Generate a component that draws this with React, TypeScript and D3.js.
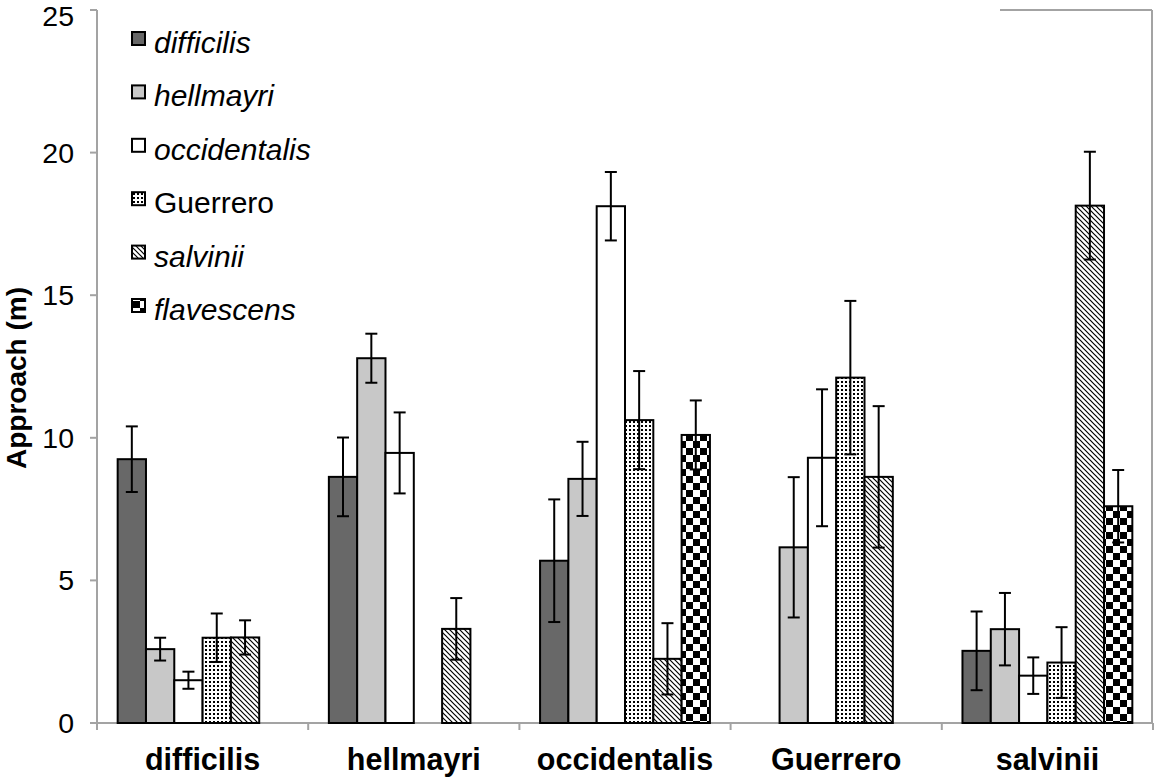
import React from 'react';
import * as d3 from 'd3';

// Groups along the x axis (the species whose song was played)
const categories = ['difficilis', 'hellmayri', 'occidentalis', 'Guerrero', 'salvinii'];

// Responding populations (one bar per population inside every group)
const seriesNames = ['difficilis', 'hellmayri', 'occidentalis', 'Guerrero', 'salvinii', 'flavescens'];
const seriesItalic = [true, true, true, false, true, true];

// Mean approach distance (m); null = not tested
const meanDifficilis = [9.25, 8.63, 5.69, null, 2.53];
const meanHellmayri = [2.59, 12.79, 8.56, 6.16, 3.29];
const meanOccidentalis = [1.5, 9.47, 18.12, 9.3, 1.66];
const meanGuerrero = [2.99, null, 10.62, 12.11, 2.12];
const meanSalvinii = [3.0, 3.3, 2.25, 8.63, 18.14];
const meanFlavescens = [null, null, 10.1, null, 7.6];

// Standard errors
const seDifficilis = [1.15, 1.38, 2.15, null, 1.38];
const seHellmayri = [0.4, 0.86, 1.3, 2.46, 1.27];
const seOccidentalis = [0.3, 1.42, 1.2, 2.4, 0.64];
const seGuerrero = [0.85, null, 1.72, 2.69, 1.24];
const seSalvinii = [0.6, 1.08, 1.25, 2.48, 1.89];
const seFlavescens = [null, null, 1.21, null, 1.27];

const yTicks = [0, 5, 10, 15, 20, 25];
const yLabel = 'Approach (m)';

const means = [meanDifficilis, meanHellmayri, meanOccidentalis, meanGuerrero, meanSalvinii, meanFlavescens];
const errors = [seDifficilis, seHellmayri, seOccidentalis, seGuerrero, seSalvinii, seFlavescens];

const fills = ['#686868', '#c8c8c8', '#ffffff', 'url(#pat-dots)', 'url(#pat-diag)', 'url(#pat-check)'];

const W = 1154;
const H = 777;
const left = 97;
const right = 1153;
const top = 10;
const bottom = 723;
const axisColor = '#a3a3a3';
const font = '"Liberation Sans", Arial, Helvetica, sans-serif';

export default function App() {
  const y = d3.scaleLinear().domain([0, 25]).range([bottom, top]);
  const x = d3.scaleBand<string>().domain(categories).range([left, right]).padding(0);
  const xs = d3
    .scaleBand<string>()
    .domain(seriesNames)
    .range([0, x.bandwidth()])
    .paddingInner(0)
    .paddingOuter(0.73);
  const bw = xs.bandwidth();
  const cap = 6;

  const bars: { key: string; x: number; m: number; e: number | null; fill: string }[] = [];
  seriesNames.forEach((s, si) => {
    categories.forEach((c, ci) => {
      const m = means[si][ci];
      if (m == null) return;
      bars.push({
        key: `${s}-${c}`,
        x: (x(c) as number) + (xs(s) as number),
        m,
        e: errors[si][ci],
        fill: fills[si],
      });
    });
  });

  const boundaries = categories.map((c) => x(c) as number).concat([right]);

  return (
    <svg
      width={W}
      height={H}
      style={{ position: 'absolute', left: 0, top: 0, background: '#fff' }}
      fontFamily={font}
    >
      <defs>
        <pattern id="pat-dots" patternUnits="userSpaceOnUse" width={4} height={4}>
          <rect width={4} height={4} fill="#fff" />
          <rect x={1} y={1} width={2} height={2} fill="#000" />
        </pattern>
        <pattern id="pat-diag" patternUnits="userSpaceOnUse" width={5} height={5}>
          <rect width={5} height={5} fill="#fff" />
          <path d="M-1,-1 L6,6 M-1,4 L1,6 M4,-1 L6,1" stroke="#000" strokeWidth={1.2} />
        </pattern>
        <pattern id="pat-check" patternUnits="userSpaceOnUse" width={14} height={14}>
          <rect width={14} height={14} fill="#fff" />
          <rect x={0} y={0} width={7} height={7} fill="#000" />
          <rect x={7} y={7} width={7} height={7} fill="#000" />
        </pattern>
      </defs>

      {/* frame edges */}
      <line x1={1000} y1={top} x2={1152} y2={top} stroke={axisColor} strokeWidth={2} />
      <line x1={1152} y1={top} x2={1152} y2={bottom} stroke={axisColor} strokeWidth={2} />

      {/* y axis */}
      <line x1={left} y1={top} x2={left} y2={bottom + 7} stroke={axisColor} strokeWidth={2} />
      {yTicks.map((t) => (
        <g key={t}>
          <line x1={left - 7} x2={left} y1={y(t)} y2={y(t)} stroke={axisColor} strokeWidth={2} />
          <text x={74} y={Math.max(y(t) + 10, 26)} textAnchor="end" fontSize={28.5} fill="#000">
            {t}
          </text>
        </g>
      ))}
      <text
        transform={`translate(26, ${378}) rotate(-90)`}
        textAnchor="middle"
        fontSize={28}
        fontWeight="bold"
      >
        {yLabel}
      </text>

      {/* x axis */}
      <line x1={left} y1={bottom} x2={right} y2={bottom} stroke={axisColor} strokeWidth={2} />
      {boundaries.map((b, i) => (
        <line key={i} x1={b} x2={b} y1={bottom} y2={bottom + 7} stroke={axisColor} strokeWidth={2} />
      ))}
      {categories.map((c) => (
        <text
          key={c}
          x={(x(c) as number) + x.bandwidth() / 2}
          y={770}
          textAnchor="middle"
          fontSize={30.5}
          fontWeight="bold"
        >
          {c}
        </text>
      ))}

      {/* bars */}
      {bars.map((b) => (
        <rect
          key={b.key}
          x={b.x}
          y={y(b.m)}
          width={bw}
          height={bottom - y(b.m)}
          fill={b.fill}
          stroke="#000"
          strokeWidth={2}
        />
      ))}

      {/* error bars */}
      {bars
        .filter((b) => b.e != null)
        .map((b) => {
          const cx = b.x + bw / 2;
          const y1 = y(b.m + (b.e as number));
          const y2 = y(b.m - (b.e as number));
          return (
            <g key={`e-${b.key}`} stroke="#000" strokeWidth={2}>
              <line x1={cx} x2={cx} y1={y1} y2={y2} />
              <line x1={cx - cap} x2={cx + cap} y1={y1} y2={y1} />
              <line x1={cx - cap} x2={cx + cap} y1={y2} y2={y2} />
            </g>
          );
        })}

      {/* legend */}
      {seriesNames.map((s, i) => {
        const ly = 32 + i * 53.4;
        return (
          <g key={`lg-${s}`}>
            <rect x={132} y={ly} width={13} height={13} fill={fills[i]} stroke="#000" strokeWidth={2} />
            <text
              x={154}
              y={ly + 21}
              fontSize={30}
              fontStyle={seriesItalic[i] ? 'italic' : 'normal'}
            >
              {s}
            </text>
          </g>
        );
      })}
    </svg>
  );
}
